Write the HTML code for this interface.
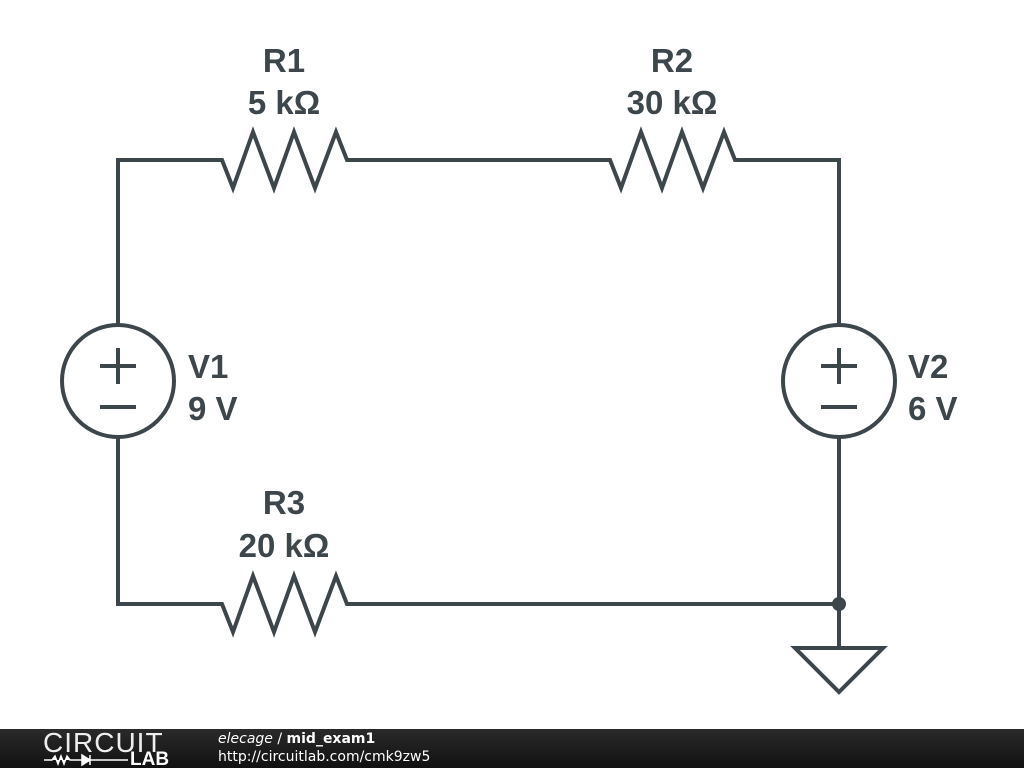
<!DOCTYPE html>
<html><head><style>
body{margin:0;width:1024px;height:768px;background:#fff;overflow:hidden;font-family:"Liberation Sans",sans-serif}
.f{position:absolute;left:0;top:729px;width:1024px;height:39px;background:linear-gradient(#2a2a2a,#111);color:#fff}
</style></head><body>
<svg width="1024" height="729" style="position:absolute;left:0;top:0">
<g fill="none" stroke="#3d464b" stroke-width="4" stroke-linejoin="miter">
<path d="M118,326 V160 H222 L233,188 L253,132 L274,188 L294,132 L315,188 L336,132 L347,160 H610 L621,188 L641,132 L662,188 L682,132 L703,188 L724,132 L735,160 H839 V326"/>
<path d="M118,437 V604 H222 L233,632 L253,576 L274,632 L294,576 L315,632 L336,576 L347,604 H839 V437"/>
<circle cx="118" cy="381" r="56"/>
<circle cx="839" cy="381" r="56"/>
<path d="M100,366 H136 M118,348 V384 M100,407 H136"/>
<path d="M821,366 H857 M839,348 V384 M821,407 H857"/>
<path d="M839,604 V648 M795,648 H883 L839,692 Z"/>
</g>
<circle cx="839" cy="604" r="7" fill="#3d464b"/>
<g fill="#3d464b" font-weight="bold" font-size="33" text-anchor="middle">
<text x="284" y="72">R1</text><text x="284" y="114">5 kΩ</text>
<text x="672" y="72">R2</text><text x="672" y="114">30 kΩ</text>
<text x="284" y="514">R3</text><text x="284" y="557">20 kΩ</text>
<text x="188" y="378" text-anchor="start">V1</text><text x="188" y="420" text-anchor="start">9 V</text>
<text x="908" y="378" text-anchor="start">V2</text><text x="908" y="420" text-anchor="start">6 V</text>
</g>
</svg>
<div class="f">
<div style="position:absolute;left:43px;top:-2px;font-size:28px;letter-spacing:1px;font-weight:300;color:#eee">CIRCUIT</div>
<div style="position:absolute;left:130px;top:20px;font-size:19px;font-weight:bold">LAB</div>
<svg width="90" height="14" style="position:absolute;left:44px;top:24px"><path d="M0,7 H8 L11,3 L14,11 L17,3 L20,11 L23,3 L26,7 H38 M38,2 L46,7 L38,12 Z M46,2 V12 M46,7 H84" stroke="#fff" stroke-width="1.5" fill="#fff"/></svg>
<div style="position:absolute;left:218px;top:2px;font-size:14px;font-family:'DejaVu Sans',sans-serif"><i>elecage</i> / <b>mid_exam1</b></div>
<div style="position:absolute;left:218px;top:20px;font-size:14px;font-family:'DejaVu Sans',sans-serif">http://circuitlab.com/cmk9zw5</div>
</div>
</body></html>
